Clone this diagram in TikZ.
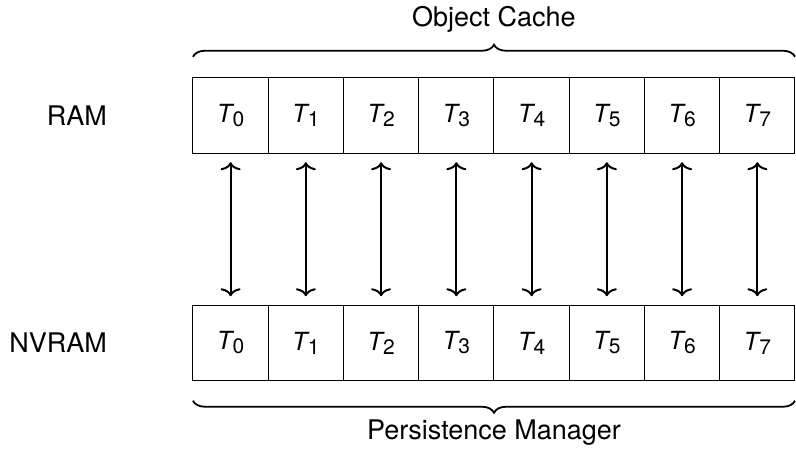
\documentclass[tikz,border=0pt]{standalone}
\usepackage{fontspec}
\setmainfont{TeX Gyre Heros}
\usetikzlibrary{positioning, arrows.meta, decorations.pathreplacing}
\newcommand{\Tslot}[1]{\textit{T}\kern-1.5pt\raisebox{-4pt}{\fontsize{21}{21}\selectfont #1}}

\begin{document}
\begin{tikzpicture}[
    x=1pt, y=1pt,
    node distance=0pt,
    cell/.style={draw, line width=1pt, minimum width=75.25pt, minimum height=75.5pt, inner sep=0pt, outer sep=0pt, font=\fontsize{25}{30}\selectfont},
    lbl/.style={font=\fontsize{27}{32}\selectfont, inner sep=0pt},
    link/.style={<->, >={To[length=8pt,width=20pt]}, line width=2pt, shorten <=9pt, shorten >=9pt},
    brc/.style={decorate, decoration={brace, amplitude=12pt}, line width=1.8pt}
]
    \useasboundingbox (0,0) rectangle (796,449);

    % RAM row
    \node[cell] (r0) at (230.6,333.5) {\Tslot{0}};
    \node[cell, right=of r0] (r1) {\Tslot{1}};
    \node[cell, right=of r1] (r2) {\Tslot{2}};
    \node[cell, right=of r2] (r3) {\Tslot{3}};
    \node[cell, right=of r3] (r4) {\Tslot{4}};
    \node[cell, right=of r4] (r5) {\Tslot{5}};
    \node[cell, right=of r5] (r6) {\Tslot{6}};
    \node[cell, right=of r6] (r7) {\Tslot{7}};

    % NVRAM row
    \node[cell] (n0) at (230.6,106) {\Tslot{0}};
    \node[cell, right=of n0] (n1) {\Tslot{1}};
    \node[cell, right=of n1] (n2) {\Tslot{2}};
    \node[cell, right=of n2] (n3) {\Tslot{3}};
    \node[cell, right=of n3] (n4) {\Tslot{4}};
    \node[cell, right=of n4] (n5) {\Tslot{5}};
    \node[cell, right=of n5] (n6) {\Tslot{6}};
    \node[cell, right=of n6] (n7) {\Tslot{7}};

    \node[lbl, anchor=east] (ram) at (107,333.5) {RAM};
    \node[lbl, anchor=east] (nvram) at (107,106) {NVRAM};

    % braces and their captions
    \draw[brc] ([yshift=21pt]r0.north west) -- ([yshift=21pt]r7.north east);
    \draw[brc] ([yshift=-20pt]n7.south east) -- ([yshift=-20pt]n0.south west);
    \node[lbl] (cache) at ([yshift=58pt]r3.north east) {Object Cache};
    \node[lbl] (persist) at ([yshift=-52pt]n3.south east) {Persistence Manager};

    \draw[link] (r0.south) -- (n0.north);
    \draw[link] (r1.south) -- (n1.north);
    \draw[link] (r2.south) -- (n2.north);
    \draw[link] (r3.south) -- (n3.north);
    \draw[link] (r4.south) -- (n4.north);
    \draw[link] (r5.south) -- (n5.north);
    \draw[link] (r6.south) -- (n6.north);
    \draw[link] (r7.south) -- (n7.north);
\end{tikzpicture}
\end{document}
